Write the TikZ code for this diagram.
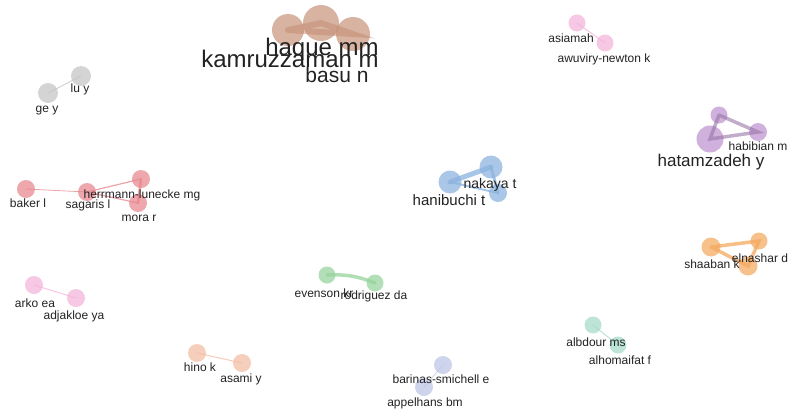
\documentclass[tikz,border=0pt]{standalone}
\usepackage{fontspec}
\setmainfont{Liberation Sans}

\begin{document}
\begin{tikzpicture}[x=1pt, y=-1pt,
  auth/.style={circle, inner sep=0pt, minimum size=#1, fill opacity=0.72},
  lab/.style={anchor=base, inner sep=0pt, text=labText, font=\fontsize{12}{12}\selectfont},
  labMid/.style={lab, font=\fontsize{15}{15}\selectfont},
  labBig/.style={lab, font=\fontsize{24}{24}\selectfont},
  link/.style={line cap=round, draw opacity=0.75}]

% Colori dei gruppi
\definecolor{colBrown}{HTML}{C08468}
\definecolor{colGray}{HTML}{C4C4C4}
\definecolor{colRed}{HTML}{E7858C}
\definecolor{colBlue}{HTML}{8AB2DE}
\definecolor{colPurple}{HTML}{BE93D1}
\definecolor{colPink}{HTML}{F2B3D9}
\definecolor{colOrange}{HTML}{F4A95E}
\definecolor{colGreen}{HTML}{96D39C}
\definecolor{colSalmon}{HTML}{F3BBA2}
\definecolor{colLav}{HTML}{BCC4E6}
\definecolor{colTeal}{HTML}{A3DAC6}
\definecolor{labText}{HTML}{222222}

\useasboundingbox (0,0) rectangle (789,410);

% Gruppo marrone
\node[auth=32, fill=colBrown, fill opacity=0.62] (kamruzzaman) at (288,30) {};
\node[auth=36, fill=colBrown, fill opacity=0.62] (haque) at (321,23) {};
\node[auth=34, fill=colBrown, fill opacity=0.62] (basu) at (353,34) {};
\draw[link, colBrown, line width=6pt, draw opacity=0.45] (kamruzzaman.center) -- (haque.center) -- (basu.center) -- (kamruzzaman.center);
\node[labBig] (labHaque) at (322,55) {haque mm};
\node[labBig] (labKamru) at (290,67) {kamruzzaman m};
\node[labBig, font=\fontsize{21}{21}\selectfont] (labBasu) at (337,82) {basu n};

% Gruppo grigio
\node[auth=20, fill=colGray] (luy) at (81,76) {};
\node[auth=20, fill=colGray] (gey) at (48,93) {};
\draw[link, colGray, line width=1pt] (gey.center) -- (luy.center);
\node[lab] (labLu) at (80,92) {lu y};
\node[lab] (labGe) at (47,112) {ge y};

% Gruppo rosso
\node[auth=18, fill=colRed] (baker) at (26,189) {};
\node[auth=18, fill=colRed] (sagaris) at (87,192) {};
\node[auth=18, fill=colRed] (herrmann) at (141,179) {};
\node[auth=18, fill=colRed] (mora) at (138,203) {};
\draw[link, colRed, line width=0.8pt] (baker.center) -- (sagaris.center);
\draw[link, colRed, line width=1.2pt] (sagaris.center) -- (herrmann.center);
\draw[link, colRed, line width=1.2pt] (sagaris.center) -- (mora.center);
\draw[link, colRed, line width=2.5pt] (herrmann.center) -- (mora.center);
\node[lab] (labBaker) at (28,207) {baker l};
\node[lab] (labSagaris) at (88,208) {sagaris l};
\node[lab] (labHerrmann) at (142,198) {herrmann-lunecke mg};
\node[lab] (labMora) at (139,221) {mora r};

% Gruppo blu
\node[auth=23, fill=colBlue] (hanibuchi) at (450,182) {};
\node[auth=23, fill=colBlue] (nakaya) at (491,167) {};
\node[auth=18, fill=colBlue] (blueC) at (498,193) {};
\draw[link, colBlue, line width=5pt] (hanibuchi.center) -- (nakaya.center);
\draw[link, colBlue, line width=3pt] (nakaya.center) -- (blueC.center);
\draw[link, colBlue, line width=2pt] (hanibuchi.center) -- (blueC.center);
\node[labMid, font=\fontsize{14}{14}\selectfont] (labNakaya) at (490,188) {nakaya t};
\node[labMid] (labHanibuchi) at (449,205) {hanibuchi t};

% Gruppo rosa (in alto)
\node[auth=17, fill=colPink] (asiamah) at (577,23) {};
\node[auth=17, fill=colPink] (awuviry) at (605,43) {};
\draw[link, colPink, line width=1pt] (asiamah.center) -- (awuviry.center);
\node[lab] (labAsiamah) at (571,42) {asiamah};
\node[lab] (labAwuviry) at (604,62) {awuviry-newton k};

% Gruppo viola
\node[auth=17, fill=colPurple] (purpleC) at (719,115) {};
\node[auth=18, fill=colPurple] (habibian) at (758,132) {};
\node[auth=27, fill=colPurple] (hatamzadeh) at (710,139) {};
\draw[link, colPurple!80!black, line width=3.5pt, draw opacity=0.6] (purpleC.center) -- (habibian.center) -- (hatamzadeh.center) -- (purpleC.center);
\node[lab] (labHabibian) at (758,150) {habibian m};
\node[labMid, font=\fontsize{17}{17}\selectfont] (labHatamzadeh) at (711,166) {hatamzadeh y};

% Gruppo arancione
\node[auth=19, fill=colOrange] (shaaban) at (711,247) {};
\node[auth=17, fill=colOrange] (elnashar) at (759,241) {};
\node[auth=19, fill=colOrange] (orangeC) at (748,266) {};
\draw[link, colOrange, line width=3.5pt] (shaaban.center) -- (elnashar.center) -- (orangeC.center) -- (shaaban.center);
\node[lab] (labElnashar) at (760,262) {elnashar d};
\node[lab] (labShaaban) at (712,268) {shaaban k};

% Gruppo verde
\node[auth=17, fill=colGreen] (evenson) at (327,275) {};
\node[auth=17, fill=colGreen] (rodriguez) at (375,283) {};
\draw[link, colGreen, line width=3.5pt] (evenson.center) to[bend left=12] (rodriguez.center);
\node[lab] (labEvenson) at (324,297) {evenson kr};
\node[lab] (labRodriguez) at (374,299) {rodriguez da};

% Gruppo rosa (in basso)
\node[auth=18, fill=colPink] (arko) at (34,285) {};
\node[auth=18, fill=colPink] (adjakloe) at (76,298) {};
\draw[link, colPink, line width=1pt] (arko.center) -- (adjakloe.center);
\node[lab] (labArko) at (35,307) {arko ea};
\node[lab] (labAdjakloe) at (74,319) {adjakloe ya};

% Gruppo salmone
\node[auth=18, fill=colSalmon] (hino) at (197,353) {};
\node[auth=18, fill=colSalmon] (asami) at (242,363) {};
\draw[link, colSalmon, line width=1pt] (hino.center) -- (asami.center);
\node[lab] (labHino) at (200,371) {hino k};
\node[lab] (labAsami) at (241,382) {asami y};

% Gruppo lavanda
\node[auth=18, fill=colLav] (barinas) at (443,365) {};
\node[auth=18, fill=colLav] (appelhans) at (424,387) {};
\draw[link, colLav, line width=0.8pt] (barinas.center) -- (appelhans.center);
\node[lab] (labBarinas) at (441,383) {barinas-smichell e};
\node[lab] (labAppelhans) at (425,406) {appelhans bm};

% Gruppo verde acqua
\node[auth=17, fill=colTeal] (albdour) at (593,325) {};
\node[auth=17, fill=colTeal] (alhomaifat) at (618,345) {};
\draw[link, colTeal, line width=1pt] (albdour.center) -- (alhomaifat.center);
\node[lab] (labAlbdour) at (596,346) {albdour ms};
\node[lab] (labAlhomaifat) at (620,364) {alhomaifat f};

\end{tikzpicture}
\end{document}
